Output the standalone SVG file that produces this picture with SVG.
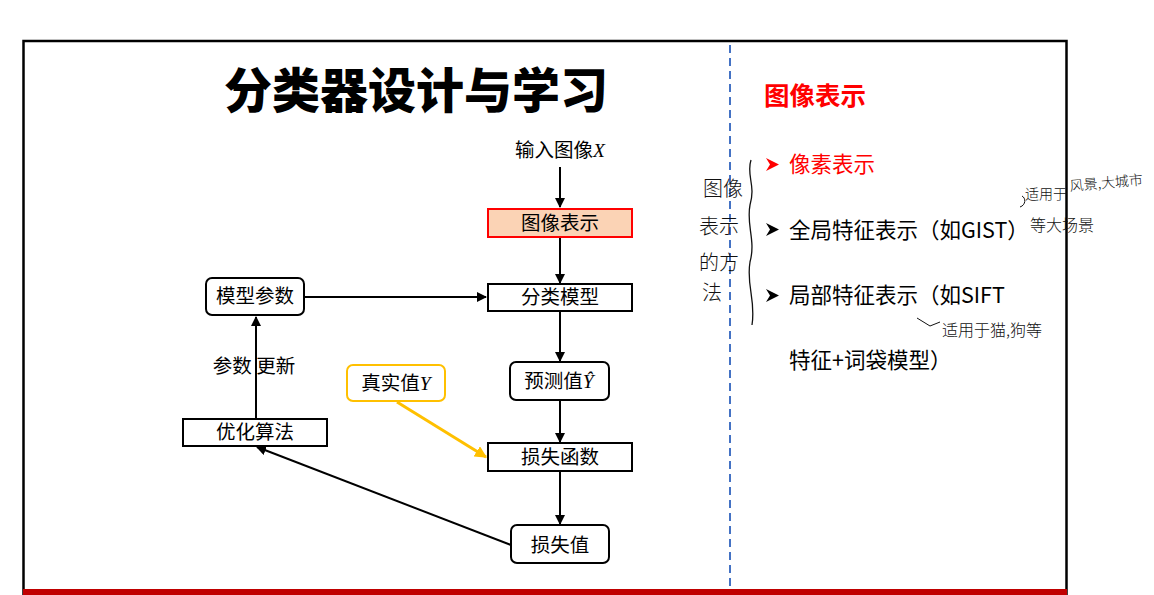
<svg xmlns="http://www.w3.org/2000/svg" width="1154" height="595" viewBox="0 0 1154 595">
<defs>
<style>
.t{font-family:"Noto Sans CJK SC","Liberation Sans",sans-serif;font-size:19.5px;fill:#000;}
.it{font-family:"Liberation Serif",serif;font-style:italic;}
.box{fill:#fff;stroke:#000;stroke-width:2;}
.c{fill:none;stroke:#000;stroke-width:2;}
.r{font-family:"Noto Sans CJK SC","Liberation Sans",sans-serif;font-size:21.5px;fill:#000;}
.hw{font-family:"Noto Sans CJK SC",sans-serif;font-weight:300;font-size:16px;fill:#111;}
.hv{font-family:"Noto Sans CJK SC",sans-serif;font-weight:300;font-size:20px;fill:#111;}
</style>
<marker id="ah" viewBox="0 0 10 10" refX="9" refY="5" markerWidth="5" markerHeight="5" orient="auto"><path d="M0,0 L10,5 L0,10 z" fill="#000"/></marker>
<marker id="ay" viewBox="0 0 10 10" refX="9" refY="5" markerWidth="4" markerHeight="4" orient="auto"><path d="M0,0 L10,5 L0,10 z" fill="#FFC000"/></marker>
<path id="bullet" d="M0,0 L13,6.5 L0,13 L4,6.5 z"/>
</defs>
<rect width="1154" height="595" fill="#fff"/>
<!-- frame -->
<path d="M23.5,595 V41 H1066.5 V595" fill="none" stroke="#000" stroke-width="2.5"/>
<rect x="23" y="589" width="1044" height="6" fill="#C00000"/>
<line x1="730" y1="45" x2="730" y2="590" stroke="#4472C4" stroke-width="2" stroke-dasharray="8,5"/>
<!-- title -->
<text x="416" y="108" text-anchor="middle" style="font-family:'Noto Sans CJK SC',sans-serif;font-weight:900;font-size:48px;fill:#000">分类器设计与学习</text>

<g id="connectors">
<line class="c" x1="560" y1="167" x2="560" y2="207" marker-end="url(#ah)"/>
<line class="c" x1="560" y1="237" x2="560" y2="283" marker-end="url(#ah)"/>
<line class="c" x1="305" y1="297" x2="486" y2="297" marker-end="url(#ah)"/>
<line class="c" x1="560" y1="311" x2="560" y2="361" marker-end="url(#ah)"/>
<line class="c" x1="560" y1="400" x2="560" y2="442" marker-end="url(#ah)"/>
<line class="c" x1="560" y1="472" x2="560" y2="524" marker-end="url(#ah)"/>
<line class="c" x1="511" y1="545" x2="257" y2="447" marker-end="url(#ah)"/>
<line class="c" x1="256" y1="419" x2="256" y2="317" marker-end="url(#ah)"/>
<line x1="397" y1="402" x2="486" y2="457" stroke="#FFC000" stroke-width="3" marker-end="url(#ay)"/>
<text class="t" x="254" y="373" text-anchor="middle">参数 更新</text>
</g>

<g id="n-input"><text class="t" x="560" y="157" text-anchor="middle">输入图像<tspan class="it">X</tspan></text></g>
<g id="n-repr"><rect x="488" y="209" width="144" height="28" fill="#FBD3B5" stroke="#FF0000" stroke-width="2"/><text class="t" x="560" y="230" text-anchor="middle">图像表示</text></g>
<g id="n-model"><rect class="box" x="488" y="284" width="144" height="27"/><text class="t" x="560" y="304" text-anchor="middle">分类模型</text></g>
<g id="n-params"><rect class="box" x="206" y="278" width="98" height="37" rx="6"/><text class="t" x="255" y="303" text-anchor="middle">模型参数</text></g>
<g id="n-pred"><rect class="box" x="510" y="362" width="99" height="38" rx="6"/><text class="t" x="559" y="388" text-anchor="middle">预测值<tspan class="it">Ŷ</tspan></text></g>
<g id="n-true"><rect x="347" y="365" width="98" height="36" rx="6" fill="#fff" stroke="#FFC000" stroke-width="2"/><text class="t" x="396" y="390" text-anchor="middle">真实值<tspan class="it">Y</tspan></text></g>
<g id="n-lossfn"><rect class="box" x="488" y="443" width="144" height="28"/><text class="t" x="560" y="464" text-anchor="middle">损失函数</text></g>
<g id="n-loss"><rect class="box" x="511" y="525" width="98" height="38" rx="6"/><text class="t" x="560" y="552" text-anchor="middle">损失值</text></g>
<g id="n-opt"><rect class="box" x="183" y="419" width="144" height="27"/><text class="t" x="255" y="439" text-anchor="middle">优化算法</text></g>

<!-- right panel -->
<text x="764" y="105" style="font-family:'Noto Sans CJK SC',sans-serif;font-weight:700;font-size:25.5px;fill:#FF0000">图像表示</text>
<use href="#bullet" x="766" y="158" fill="#FF0000"/>
<use href="#bullet" x="766" y="223" fill="#000"/>
<use href="#bullet" x="766" y="289" fill="#000"/>
<text class="r" x="789" y="172" style="fill:#FF0000">像素表示</text>
<text class="r" x="789" y="238">全局特征表示（如GIST）</text>
<text class="r" x="789" y="303">局部特征表示（如SIFT</text>
<text class="r" x="789" y="368">特征+词袋模型）</text>

<!-- handwritten annotations -->
<path d="M751,160 C746,175 756,185 750,205 C746,225 756,240 750,262 C746,285 756,300 752,325" fill="none" stroke="#111" stroke-width="1.3"/>
<text class="hv" x="703" y="196">图像</text>
<text class="hv" x="699" y="234">表示</text>
<text class="hv" x="699" y="270">的方</text>
<text class="hv" x="702" y="300">法</text>
<text class="hw" x="1025" y="199" style="font-size:14px">适用于</text>
<text class="hw" x="1070" y="191" style="font-size:14px" transform="rotate(-5 1070 191)">风景,大城市</text>
<path d="M1020,207 C1026,205 1026,198 1022,196" fill="none" stroke="#111" stroke-width="1"/>
<text class="hw" x="1030" y="231">等大场景</text>
<path d="M917,318 L930,326 L940,322" fill="none" stroke="#111" stroke-width="1"/>
<text class="hw" x="942" y="336">适用于猫,狗等</text>
</svg>
